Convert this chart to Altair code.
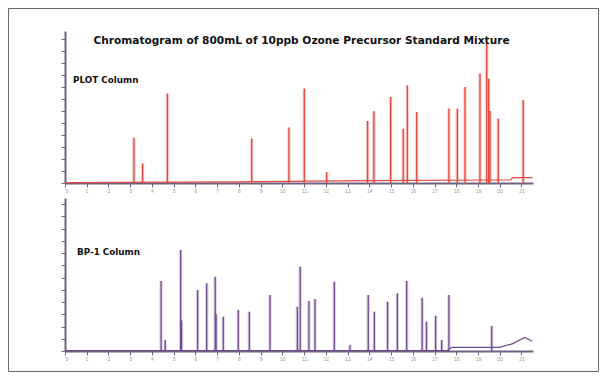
import altair as alt
import pandas as pd

TITLE = "Chromatogram of 800mL of 10ppb Ozone Precursor Standard Mixture"
TOP_LABEL = "PLOT Column"
BOTTOM_LABEL = "BP-1 Column"

x_ticks = list(range(0, 22))
y_ticks = list(range(0, 121, 10))

# PLOT column peaks (retention time, peak height)
plot_time = [3.17, 3.57, 4.71, 8.59, 10.30, 11.01, 12.04, 13.92, 14.21, 14.98,
             15.56, 15.75, 16.18, 17.66, 18.05, 18.40, 19.09, 19.40, 19.49, 19.55,
             19.93, 21.08]
plot_height = [37.8, 16.2, 74.5, 37.0, 46.2, 78.7, 9.2, 51.7, 59.8, 71.7,
               45.3, 81.4, 59.2, 62.0, 62.0, 80.0, 91.2, 116.4, 87.0, 60.0,
               53.7, 68.9]
plot_base_time = [0, 8, 14, 19.6, 20.5, 20.6, 21.5]
plot_base_level = [0.3, 1.0, 2.0, 2.5, 2.5, 4.5, 4.5]

# BP-1 column peaks
bp1_time = [4.42, 4.61, 5.32, 5.36, 6.10, 6.52, 6.91, 6.95, 7.28, 7.97,
            8.48, 9.43, 10.69, 10.82, 11.22, 11.50, 12.39, 13.11, 13.95, 14.23,
            14.84, 15.29, 15.72, 16.43, 16.63, 17.05, 17.33, 17.66, 19.63]
bp1_height = [57.2, 9.0, 82.5, 25.0, 49.8, 55.3, 60.7, 30.0, 28.0, 33.5,
              32.1, 45.8, 36.2, 68.9, 40.8, 42.5, 56.6, 4.9, 45.8, 32.1,
              40.3, 47.1, 57.2, 43.5, 23.9, 28.8, 9.0, 45.8, 20.4]
bp1_base_time = [0, 17.6, 17.8, 20.0, 20.6, 21.15, 21.5]
bp1_base_level = [0.4, 0.4, 3.0, 3.0, 6.0, 11.0, 8.0]

AXIS_COLOR = "#6f6182"


def panel(times, heights, bt, bl, core, halo, h_px, ymax, label, lx, ly, extra=None):
    peaks = pd.DataFrame({"t": times, "h": heights, "z": [0] * len(times)})
    base = pd.DataFrame({"t": bt, "h": bl})
    x = alt.X("t:Q", scale=alt.Scale(domain=[0, 21.53], nice=False, zero=False),
              axis=alt.Axis(values=x_ticks, title=None, grid=False))
    yscale = alt.Scale(domain=[0, ymax], nice=False)
    yaxis = alt.Axis(values=y_ticks, labels=False, title=None, grid=False)
    halo_l = alt.Chart(peaks).mark_rule(color=halo, strokeWidth=3.5, opacity=0.55).encode(
        x=x, y=alt.Y("z:Q", scale=yscale, axis=yaxis), y2="h:Q")
    core_l = alt.Chart(peaks).mark_rule(color=core, strokeWidth=1.3).encode(
        x=x, y=alt.Y("z:Q", scale=yscale, axis=yaxis), y2="h:Q")
    base_l = alt.Chart(base).mark_line(color=core, strokeWidth=1.2).encode(
        x=x, y=alt.Y("h:Q", scale=yscale, axis=yaxis))
    lab = alt.Chart(pd.DataFrame({"label": [label]})).mark_text(
        font="DejaVu Sans", fontWeight="bold", fontSize=8.8, align="left",
        baseline="middle", color="#111").encode(
        text="label:N", x=alt.value(lx), y=alt.value(ly))
    layers = [halo_l, base_l, core_l, lab]
    if extra:
        layers += extra
    return alt.layer(*layers).properties(width=468, height=h_px)


title_l = alt.Chart(pd.DataFrame({"label": [TITLE]})).mark_text(
    font="DejaVu Sans", fontWeight="bold", fontSize=10.6, align="center",
    baseline="middle", color="#111").encode(
    text="label:N", x=alt.value(236.5), y=alt.value(10))

frame_l = alt.Chart(pd.DataFrame({"a": [0]})).mark_rect(
    fill="white", fillOpacity=0, stroke="#666", strokeWidth=1).encode(
    x=alt.value(-56.5), x2=alt.value(533.5), y=alt.value(-22.5), y2=alt.value(340.5))

top = panel(plot_time, plot_height, plot_base_time, plot_base_level,
            "#e0493f", "#f4a9a0", 152, 126.7, TOP_LABEL, 8, 49,
            extra=[title_l, frame_l])
bottom = panel(bp1_time, bp1_height, bp1_base_time, bp1_base_level,
               "#6e4b8c", "#c9b3d8", 153, 125, BOTTOM_LABEL, 12, 54)

chart = alt.vconcat(top, bottom, spacing=15, bounds="flush").properties(
    padding=0, background="white"
).configure_axis(
    domainColor=AXIS_COLOR, domainWidth=2, tickColor=AXIS_COLOR, tickWidth=1,
    tickSize=4, labelFontSize=5, labelColor="#999", labelPadding=1,
    labelFont="Liberation Sans"
).configure_view(strokeWidth=0)

chart.save("out.html", embed_options={"renderer": "svg", "actions": False})
